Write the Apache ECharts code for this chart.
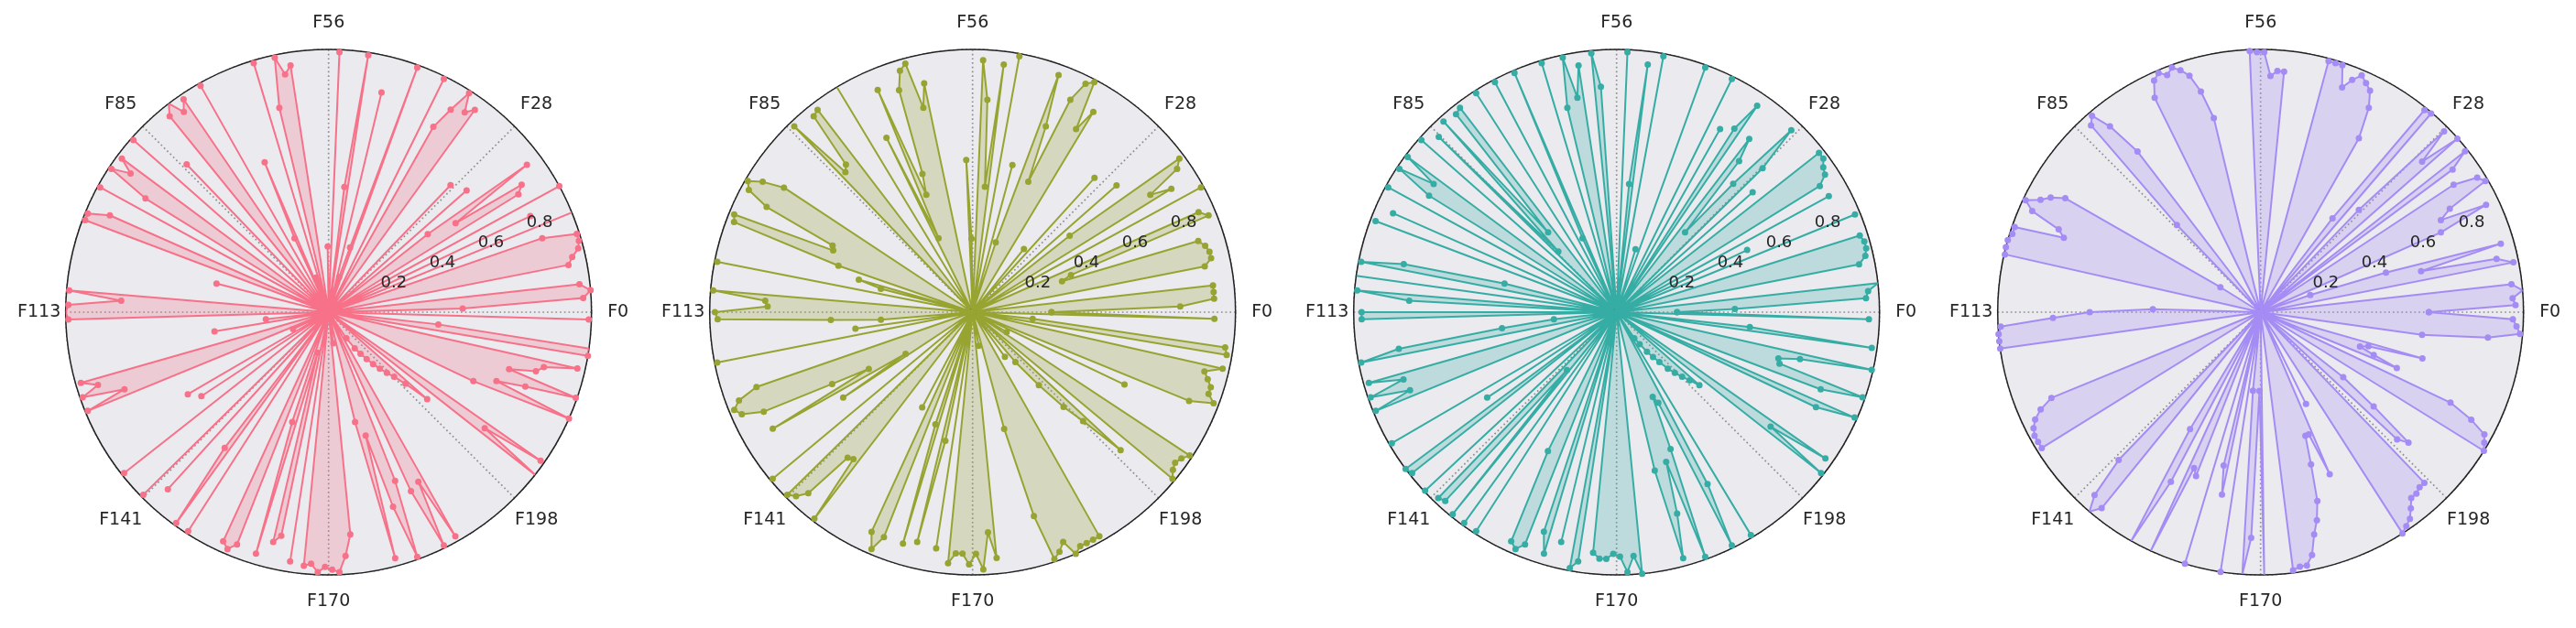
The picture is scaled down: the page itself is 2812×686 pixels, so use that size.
<!DOCTYPE html>
<html>
<head>
<meta charset="utf-8">
<script src="https://cdn.jsdelivr.net/npm/echarts@6/dist/echarts.min.js"></script>
<style>
html, body { margin: 0; padding: 0; background: #fff; }
#chart { width: 2812px; height: 686px; }
</style>
</head>
<body>
<div id="chart"></div>
<script>
var featureCount = 226;
var tickLabels = ['F0', 'F28', 'F56', 'F85', 'F113', 'F141', 'F170', 'F198'];
var radialTicks = [0.2, 0.4, 0.6, 0.8];
var colors = ['#f77189', '#97a431', '#36ada4', '#a48cf4'];

// one value per feature F0..F225
var pinkVals = [
	0, .51, .97, 1.0, .96, 0, 0, .93, .95, .98,
	.99, .99, .86, 0, 1.0, 0, .85, 0, 1.0, 0,
	.85, .88, .59, .94, .48, 0, .70, 0, 0, .67,
	0, 0, 0, 0, .95, .92, .99, .90, .81, 0,
	.99, 0, 0, 0, .99, .26, .14, 0, .86, 0,
	0, .99, .48, 0, 0, .99, 0, .25, 0, 0,
	0, 0, .95, .92, .99, .80, 0, .99, 0, .14,
	0, .62, .31, 0, 0, .99, 0, 0, .98, .94,
	1.0, .96, 0, 0, .78, 0, 0, .99, 0, 0,
	.98, .92, .99, .82, 0, .99, 0, 0, .91, .99,
	.99, 0, 0, 0, .44, 0, 0, 0, 0, 0,
	.99, .79, .99, 1.0, .99, 0, 0, .24, 0, .44,
	0, 0, 0, .98, .92, .99, .83, .99, 0, .15,
	0, 0, .62, 0, .58, 0, 0, .99, 0, 0,
	0, .99, 0, .91, 0, 0, .65, .99, 0, .99,
	0, 0, 0, 0, .96, .98, .95, 0, .44, .96,
	.16, .90, .87, 0, .96, 0, .97, .96, .99, .97,
	.98, .99, .93, .85, 0, .12, 0, 0, .43, .97,
	.49, .78, .99, .69, 0, .75, .99, .73, .98, 0,
	0, .12, .17, .20, .23, .26, .29, .32, .35, .40,
	.50, 0, 1.0, .74, .985, 0, 0, 0, 0, 0,
	.61, 1.0, .69, .80, .995, .72, .82, .845, .97, 0,
	1.0, 1.0, .42, 0, 0, .99
];
var oliveVals = [
	.30, .79, .92, .92, .92, 0, 0, .90, .93, .93,
	.92, .90, .36, .40, .97, .94, 0, 0, .99, 0,
	.89, .81, .95, .98, .47, 0, .73, 0, 0, 0,
	.69, 0, .31, 0, 0, 0, 0, .89, .80, .99,
	.97, .89, .54, .76, .96, .28, 0, .58, 0, 0,
	.99, 0, .95, .48, .81, .96, 0, .28, .58, 0,
	0, 0, 0, 0, .89, .80, .98, .96, .89, .56,
	.48, .92, .31, .74, 0, 0, 1.0, 0, 0, 0,
	.97, .96, .74, .72, .98, 0, 0, 0, 0, 0,
	0, 0, .86, .94, .99, .97, .88, .59, .58, .98,
	.97, .54, 0, .45, .36, 0, .99, 0, 0, 0,
	.99, .79, .78, .98, .97, .54, .35, 0, .45, 0,
	.99, 0, 0, 0, 0, .87, .95, .98, .96, .88,
	.60, .45, .88, .30, .59, 0, 0, 0, .99, 0,
	0, .99, .97, .93, .73, .72, .99, 0, 0, 0,
	0, 0, .41, 0, .92, .98, .92, 0, .45, .92,
	0, .90, .50, 0, .91, 0, .96, .92, .92, .96,
	.92, .98, .84, .94, 0, 0, .13, 0, 0, .46,
	.81, .99, .97, .94, 1.0, .98, .98, .98, .98, 0,
	0, 0, .21, 0, 0, .25, .375, .50, .59, .77,
	0, .99, .97, .96, .97, .99, 0, .15, 0, 0,
	.64, 0, .89, .98, .95, .95, .93, .91, .975, 0,
	.98, .97, .23, 0, 0, .92
];
var tealVals = [
	.23, .45, .95, .96, 1.0, 0, 0, .94, .97, .98,
	.98, .97, 0, 0, .98, 0, .55, 0, .92, 0,
	.91, .95, .96, .98, .98, 0, .69, 0, .78, .96,
	.66, .40, .74, .83, 0, .95, .83, 0, .80, 0,
	.99, 0, 0, 0, .99, 0, .25, 0, 0, 0,
	.99, 0, .95, .49, 0, .99, 0, 0, 0, .86,
	.99, 0, .95, .83, .99, .80, 0, .99, 0, 0,
	0, .99, .31, 0, .99, 0, 0, .99, 0, 0,
	.98, .97, .40, .98, .32, .95, 0, .99, 0, 0,
	.99, .85, .99, .84, 0, .99, 0, 0, .93, 0,
	.98, 0, 0, 0, .44, .83, .99, 0, 1.0, 0,
	.99, .79, 0, .97, .97, 0, 0, .24, .44, .84,
	.99, 0, 0, .98, .85, .99, .84, .99, 0, 0,
	0, 0, .99, 0, .59, 0, 1.0, .99, 0, 0,
	.996, 0, .98, .97, .29, .99, 0, .99, 0, .99,
	0, 0, 0, .59, .96, .98, .95, 0, .88, .96,
	0, .90, 0, .99, .96, 0, .92, .94, .94, .92,
	.93, .99, .93, 1.0, 0, 0, 0, 0, .62, .97,
	.80, .60, .99, .56, .35, .38, .99, .74, 0, .99,
	0, .12, .15, .19, .22, .25, .29, .32, .35, .38,
	.42, 0, .99, .73, .97, 0, 0, 0, 0, 0,
	.84, .99, 0, .83, .99, .65, .64, .72, .995, 0,
	0, .98, .51, 0, 0, .96
];
var purpleVals = [
	.64, .97, .96, 1.0, .96, 0, 0, .98, .92, .63,
	.95, .50, .20, 0, 0, .75, .95, .77, .82, .99,
	.97, .88, 0, .91, .99, 0, .998, .84, .98, .54,
	0, .996, .99, .45, 0, 0, 0, 0, .76, .88,
	.94, .96, .98, .95, .91, .99, .99, .99, 0, 0,
	0, 0, 0, .92, .92, .90, .99, .99, .995, 0,
	0, 0, 0, 0, 0, .76, .87, .94, .97, .99,
	.97, .99, .97, .91, 0, 0, 0, 0, 0, 0,
	.77, .91, .985, .96, .46, 0, 0, 0, 0, 0,
	0, 0, 0, .18, .86, .91, .94, .99, .95, .83,
	.80, .99, .99, 1.0, 1.0, .997, 0, 0, 0, 0,
	0, 0, .41, .65, .79, .99, 1.0, 1.0, 1.0, 0,
	0, 0, 0, 0, 0, 0, 0, .86, .915, .95,
	.97, .98, .98, .98, 0, 0, 0, 0, 0, 0,
	0, 0, .78, .94, 1.0, .96, 0, 0, 0, 0,
	.52, 1.0, .73, 0, 1.0, .645, .67, 0, 0, 1.0,
	0, .60, .71, 0, 1.0, 0, .30, 1.0, .86, .30,
	1.0, 0, 0, 0, .99, .98, .98, .945, .87, .82,
	.75, .61, .50, .50, .67, 0, .39, 0, 0, 0,
	1.0, .985, .97, .94, .91, .91, .90, .90, 0, .71,
	.75, .56, .40, 0, 0, 0, 1.0, .985, .97, .90,
	.80, 0, .56, .46, .40, .43, .64, 0, 0, 0,
	0, .62, .87, .99, .975, .96
];
var panels = [pinkVals, oliveVals, tealVals, purpleVals];

var myChart = echarts.init(document.getElementById('chart'));

var cellW = 703;
var cx0 = 358.7;
var cy = 341;
var R = 287;
var font = 'DejaVu Sans';
var textColor = '#262626';
var gridLine = {color: '#909090', type: [1.7, 3], width: 1.7};

var polar = [], angleAxis = [], radiusAxis = [], series = [];

for (var k = 0; k < panels.length; k++) {
	var cx = cx0 + cellW * k;
	// main polar
	polar.push({center: [cx, cy], radius: R});
	// second polar only for the radial tick labels (matplotlib puts them at 22.5deg)
	polar.push({center: [cx + 18.2, cy - 9.7], radius: R});

	angleAxis.push({
		polarIndex: 2 * k,
		type: 'value',
		min: 0,
		max: featureCount,
		interval: featureCount / 8,
		startAngle: 0,
		clockwise: false,
		axisLine: {lineStyle: {color: '#222', width: 1.5}},
		axisTick: {show: false},
		axisLabel: {
			margin: 17,
			formatter: function(v) {
				var i = Math.round(v / (featureCount / 8));
				return i < tickLabels.length ? '{t|' + tickLabels[i] + '}' : '';
			},
			rich: {
				t: {width: 24, height: 24, align: 'center', verticalAlign: 'middle',
					fontSize: 19, fontFamily: font, color: textColor}
			}
		},
		splitLine: {show: true, lineStyle: gridLine}
	});
	angleAxis.push({
		polarIndex: 2 * k + 1,
		type: 'value',
		min: 0,
		max: 360,
		startAngle: 22.5,
		show: false
	});

	radiusAxis.push({
		polarIndex: 2 * k,
		type: 'value',
		min: 0,
		max: 1,
		interval: 0.2,
		axisLine: {show: false},
		axisTick: {show: false},
		axisLabel: {show: false},
		splitLine: {show: true, lineStyle: gridLine},
		splitArea: {show: true, areaStyle: {color: ['#eaeaef']}}
	});
	radiusAxis.push({
		polarIndex: 2 * k + 1,
		type: 'value',
		min: 0,
		max: 1,
		interval: 0.2,
		z: 10,
		axisLine: {show: false},
		axisTick: {show: false},
		splitLine: {show: false},
		axisLabel: {
			margin: 0,
			align: 'center',
			verticalAlign: 'middle',
			fontSize: 18,
			fontFamily: font,
			color: textColor,
			formatter: function(v) {
				for (var j = 0; j < radialTicks.length; j++) {
					if (Math.abs(radialTicks[j] - v) < 1e-6) return radialTicks[j].toFixed(1);
				}
				return '';
			}
		}
	});

	var vals = panels[k];
	var pts = [];
	for (var i = 0; i < vals.length; i++) {
		pts.push([vals[i], i]);
	}
	pts.push([vals[0], featureCount]); // close the loop

	series.push({
		type: 'line',
		coordinateSystem: 'polar',
		polarIndex: 2 * k,
		data: pts,
		symbol: 'circle',
		symbolSize: 7,
		showAllSymbol: true,
		silent: true,
		lineStyle: {color: colors[k], width: 2},
		itemStyle: {color: colors[k]},
		areaStyle: {color: colors[k], opacity: 0.25}
	});
}

myChart.setOption({
	animation: false,
	textStyle: {fontFamily: font},
	polar: polar,
	angleAxis: angleAxis,
	radiusAxis: radiusAxis,
	series: series
});
</script>
</body>
</html>
